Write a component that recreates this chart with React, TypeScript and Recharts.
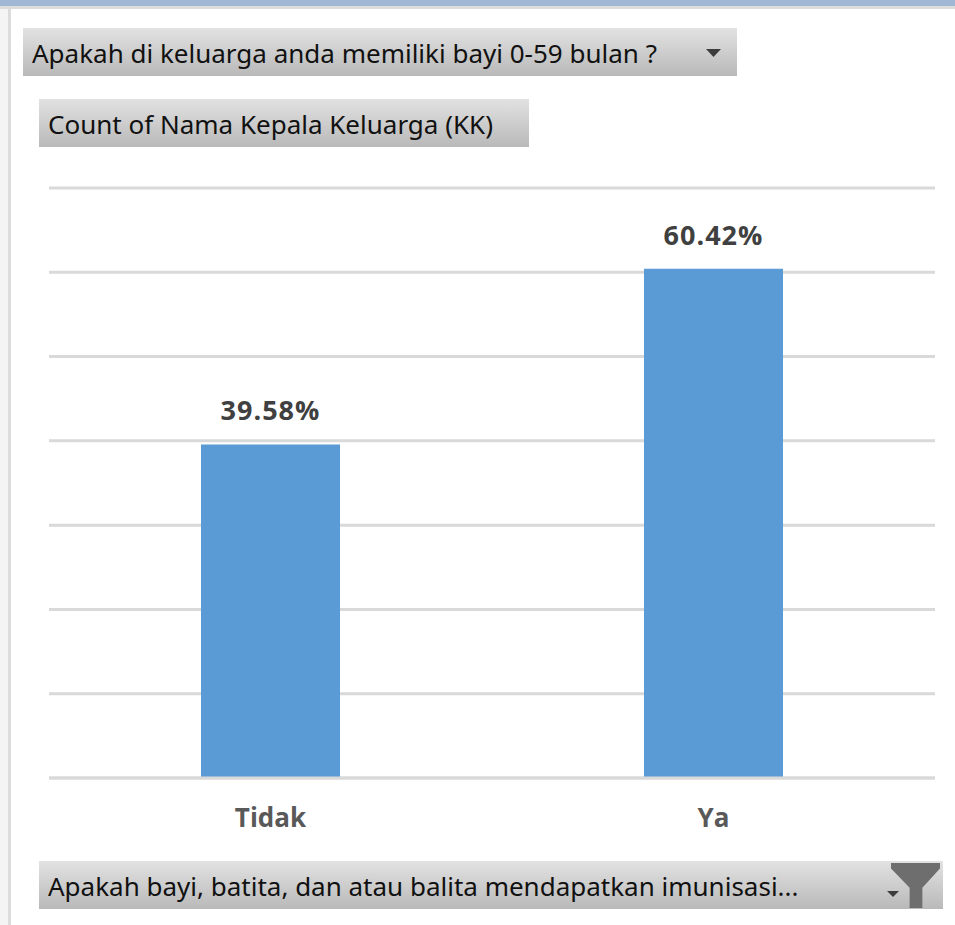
import { Bar, BarChart, CartesianGrid, LabelList, XAxis, YAxis } from "recharts";

const categories = ["Tidak", "Ya"];
const shares = [39.58, 60.42];
const gridTicks = [0, 10, 20, 30, 40, 50, 60, 70];
const data = categories.map((name, i) => ({ name, share: shares[i] }));

const uiFont = "'Noto Sans', sans-serif";
const chartFont = "'Open Sans', sans-serif";

function FieldButton({ x, y, w, label }: { x: number; y: number; w: number; label: string }) {
  return (
    <div
      style={{
        position: "absolute",
        left: x,
        top: y,
        width: w,
        height: 48,
        background: "linear-gradient(#e2e2e2, #b9b9b9)",
        color: "#111",
        fontFamily: uiFont,
        fontSize: 26,
        lineHeight: "50px",
        paddingLeft: 9,
        boxSizing: "border-box",
        whiteSpace: "nowrap",
      }}
    >
      {label}
    </div>
  );
}

function Caret({ x, y, w, h }: { x: number; y: number; w: number; h: number }) {
  return (
    <div
      style={{
        position: "absolute",
        left: x,
        top: y,
        width: w,
        height: h,
        background: "#3c3c3c",
        clipPath: "polygon(0 0, 100% 0, 50% 100%)",
      }}
    />
  );
}

export default function App() {
  return (
    <div style={{ position: "absolute", left: 0, top: 0, width: 955, height: 925, background: "#fff", overflow: "hidden" }}>
      <div style={{ position: "absolute", left: 0, top: 0, width: 955, height: 6, background: "#a0b8d4" }} />
      <div style={{ position: "absolute", left: 0, top: 6, width: 955, height: 3, background: "#dcdcdc" }} />
      <div style={{ position: "absolute", left: 0, top: 9, width: 8, height: 916, background: "#f4f4f4" }} />
      <div style={{ position: "absolute", left: 8, top: 9, width: 3, height: 916, background: "#dcdcdc" }} />

      <div style={{ position: "absolute", left: 0, top: 0 }}>
        <BarChart
          width={955}
          height={925}
          data={data}
          margin={{ top: 188, right: 20, bottom: 0, left: 49 }}
        >
          <CartesianGrid vertical={false} stroke="#d9d9d9" strokeWidth={3} />
          <XAxis
            dataKey="name"
            height={147}
            tickLine={false}
            axisLine={{ stroke: "#d9d9d9", strokeWidth: 3 }}
            tick={{ fill: "#595959", fontSize: 26, fontWeight: 700, fontFamily: chartFont }}
            tickMargin={25}
          />
          <YAxis hide width={0} domain={[0, 70]} ticks={gridTicks} />
          <Bar dataKey="share" fill="#5b9bd5" barSize={139} isAnimationActive={false}>
            <LabelList
              dataKey="share"
              position="top"
              offset={24}
              formatter={(v: number) => `${v.toFixed(2)}%`}
              style={{ fill: "#404040", fontSize: 27, fontWeight: 700, fontFamily: chartFont, letterSpacing: 1 }}
            />
          </Bar>
        </BarChart>
      </div>

      <FieldButton x={23} y={28} w={714} label="Apakah di keluarga anda memiliki bayi 0-59 bulan ?" />
      <Caret x={706} y={49} w={15} h={8} />
      <FieldButton x={39} y={99} w={490} label="Count of Nama Kepala Keluarga (KK)" />
      <FieldButton x={39} y={861} w={904} label="Apakah bayi, batita, dan atau balita mendapatkan imunisasi..." />
      <Caret x={887} y={891} w={12} h={6} />
      <div
        style={{
          position: "absolute",
          left: 891,
          top: 863,
          width: 49,
          height: 45,
          background: "#6e6e6e",
          clipPath: "polygon(0 0, 100% 0, 100% 12%, 64% 55%, 64% 100%, 38% 100%, 38% 55%, 0 12%)",
        }}
      />
    </div>
  );
}
